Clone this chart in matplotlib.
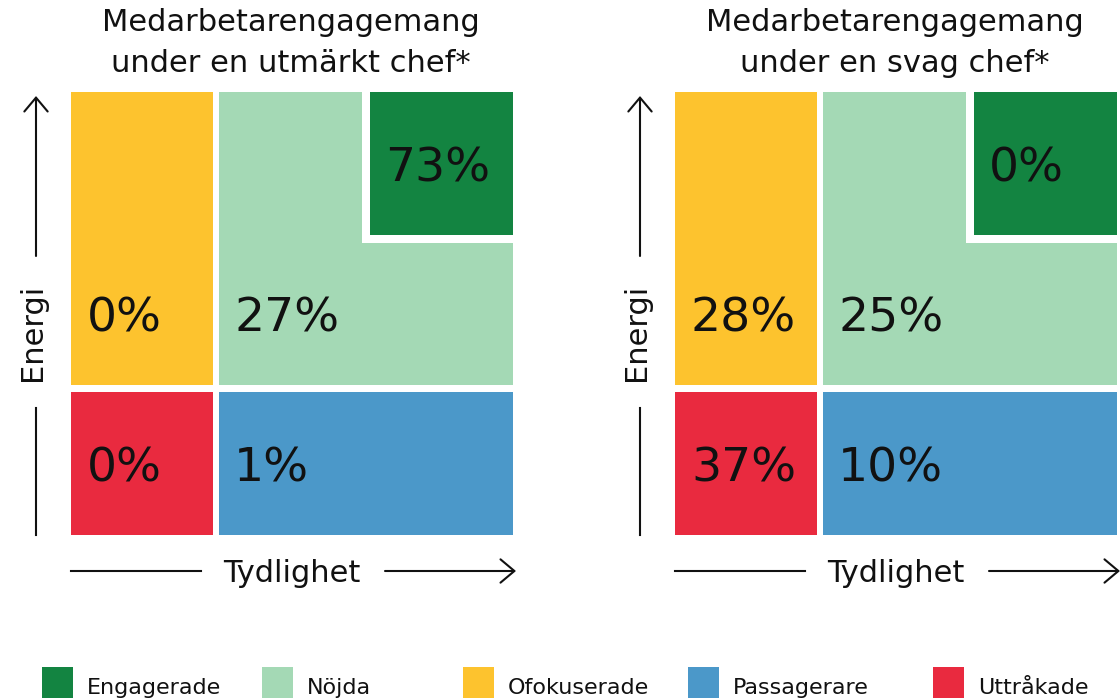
import matplotlib.pyplot as plt
from matplotlib.patches import Rectangle, Polygon

# Medarbetarengagemang per chefstyp (andel i procent)
categories = ['Engagerade', 'Nöjda', 'Ofokuserade', 'Passagerare', 'Uttråkade']
colors = ['#138441', '#a4d9b5', '#fdc32e', '#4b98c9', '#e92a3f']
panel_titles = ['Medarbetarengagemang\nunder en utmärkt chef*',
                'Medarbetarengagemang\nunder en svag chef*']
utmarkt_chef = [73, 27, 0, 1, 0]
svag_chef = [0, 25, 28, 10, 37]
panel_values = [utmarkt_chef, svag_chef]

# cell shapes in panel-local pixels (x right, y down)
shapes = {
    'Engagerade': [(299, 0), (442, 0), (442, 143), (299, 143)],
    'Nöjda': [(148, 0), (291, 0), (291, 151), (442, 151), (442, 293), (148, 293)],
    'Ofokuserade': [(0, 0), (142, 0), (142, 293), (0, 293)],
    'Passagerare': [(148, 300), (442, 300), (442, 443), (148, 443)],
    'Uttråkade': [(0, 300), (142, 300), (142, 443), (0, 443)],
}
label_pos = {
    'Engagerade': (314, 90),
    'Nöjda': (163, 240),
    'Ofokuserade': (16, 240),
    'Passagerare': (163, 389),
    'Uttråkade': (16, 389),
}
panel_x = [71, 675]
top = 92

plt.rcParams['font.family'] = ['DejaVu Sans']
fig = plt.figure(figsize=(11.2, 6.98), dpi=100)
ax = fig.add_axes([0, 0, 1, 1])
ax.set_xlim(0, 1120)
ax.set_ylim(698, 0)
ax.axis('off')

ink = '#111111'
arrow = dict(arrowstyle='->,head_length=0.5,head_width=0.42', lw=1.5,
             color=ink, mutation_scale=20, shrinkA=0, shrinkB=0)

for x0, title, values in zip(panel_x, panel_titles, panel_values):
    # cells
    for cat, col, val in zip(categories, colors, values):
        pts = [(x0 + px, top + py) for px, py in shapes[cat]]
        ax.add_patch(Polygon(pts, closed=True, facecolor=col, edgecolor='none'))
        lx, ly = label_pos[cat]
        ax.text(x0 + lx, top + ly, f'{val}%', fontsize=34, color=ink,
                ha='left', va='baseline')

    # title
    line1, line2 = title.split('\n')
    ax.text(x0 + 220, 31, line1, fontsize=22, ha='center', va='baseline', color=ink)
    ax.text(x0 + 220, 72, line2, fontsize=22, ha='center', va='baseline', color=ink)

    # Energi axis
    ax.annotate('', xy=(x0 - 35, 96), xytext=(x0 - 35, 256), arrowprops=arrow)
    ax.plot([x0 - 35, x0 - 35], [408, 535], color=ink, lw=1.5)
    ax.text(x0 - 38, 332, 'Energi', fontsize=22, rotation=90,
            ha='center', va='center', color=ink)

    # Tydlighet axis
    ax.plot([x0, x0 + 130], [571, 571], color=ink, lw=1.5)
    ax.annotate('', xy=(x0 + 445, 571), xytext=(x0 + 314, 571), arrowprops=arrow)
    ax.text(x0 + 221, 582, 'Tydlighet', fontsize=22, ha='center',
            va='baseline', color=ink)

# legend along the bottom
leg_x = [42, 262, 463, 688, 933]
for lx, cat, col in zip(leg_x, categories, colors):
    ax.add_patch(Rectangle((lx, 667), 31, 35, facecolor=col, edgecolor='none'))
    ax.text(lx + 45, 694, cat, fontsize=16, ha='left', va='baseline', color=ink)

fig.savefig('out.png', dpi=100, facecolor='white')
